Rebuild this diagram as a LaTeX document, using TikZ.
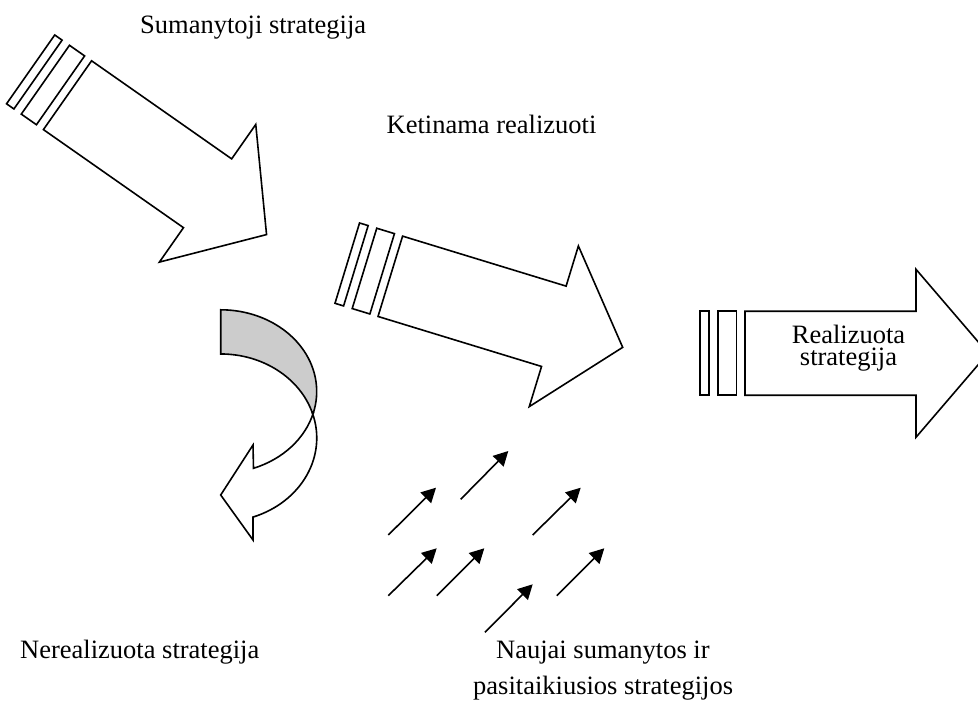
\documentclass[tikz,border=0pt]{standalone}
\usepackage{fontspec}
\setmainfont{Liberation Serif}
\usetikzlibrary{arrows.meta}
\begin{document}
\begin{tikzpicture}[x=1pt,y=-1pt,
  outline/.style={draw=black, line width=1.6pt, line join=miter, fill=white},
  txt/.style={font=\fontsize{26.5}{22}\selectfont, inner sep=0pt, anchor=base west},
  spark/.style={draw=black, line width=1.6pt, -{Triangle[length=14.5pt,width=15pt]}},
  pics/blockarrow/.style={code={
    % two thin bands behind the tail, then the arrow body with its head
    \path[outline] (-45,-42) rectangle (-36,42);
    \path[outline] (-27,-42) rectangle (-8.5,42);
    \path[outline] (0,-42) -- (171,-42) -- (171,-84) -- (243,0)
      -- (171,84) -- (171,42) -- (0,42) -- cycle;
  }}]
\useasboundingbox (0,0) rectangle (978,708);
\clip (0,0) rectangle (978,708);

% three block arrows
\pic[rotate=-35] at (67.5,95.2) {blockarrow};
\pic[rotate=-17] at (390.3,276.3) {blockarrow};
\pic at (745,353.3) {blockarrow};

% curved arrow turning back down and to the left
\coordinate (top) at (220.7,309.8);
\coordinate (cross) at (312.4,413);
\path[outline, fill=black!20] (top)
  arc[start angle=-90, end angle=15.2, x radius=96, y radius=81.7]
  -- (cross)
  arc[start angle=-17.3, end angle=-90, x radius=96, y radius=84] -- cycle;
\path[outline] (cross)
  arc[start angle=-17.3, end angle=70.4, x radius=96, y radius=84]
  -- (253,540) -- (220.7,495) -- (253,445) -- (253.5,468.3)
  arc[start angle=70, end angle=15.2, x radius=96, y radius=81.7] -- cycle;

% emerging strategies: small arrows
\coordinate (s1a) at (388.3,535);   \coordinate (s1b) at (436,487.7);
\coordinate (s2a) at (460.7,499.3); \coordinate (s2b) at (508.3,451);
\coordinate (s3a) at (532.7,535);   \coordinate (s3b) at (580.7,487.7);
\coordinate (s4a) at (388.3,595.7); \coordinate (s4b) at (436.7,548.3);
\coordinate (s5a) at (436.7,595.7); \coordinate (s5b) at (484.3,548.3);
\coordinate (s6a) at (485,632.3);   \coordinate (s6b) at (532.7,584.3);
\coordinate (s7a) at (556.7,595.7); \coordinate (s7b) at (604.3,548.3);
\foreach \i in {1,...,7} \draw[spark] (s\i a) -- (s\i b);

% labels
\node[txt] (intended) at (140,33.3) {Sumanytoji strategija};
\node[txt] (deliberate) at (386.5,133.5) {Ketinama realizuoti};
\node[txt, anchor=base] (real1) at (848.5,343.3) {Realizuota};
\node[txt, anchor=base] (real2) at (848.5,366) {strategija};
\node[txt] (unrealized) at (20,658) {Nerealizuota strategija};
\node[txt] (emergent1) at (496,658) {Naujai sumanytos ir};
\node[txt] (emergent2) at (473,694) {pasitaikiusios strategijos};
\end{tikzpicture}
\end{document}
